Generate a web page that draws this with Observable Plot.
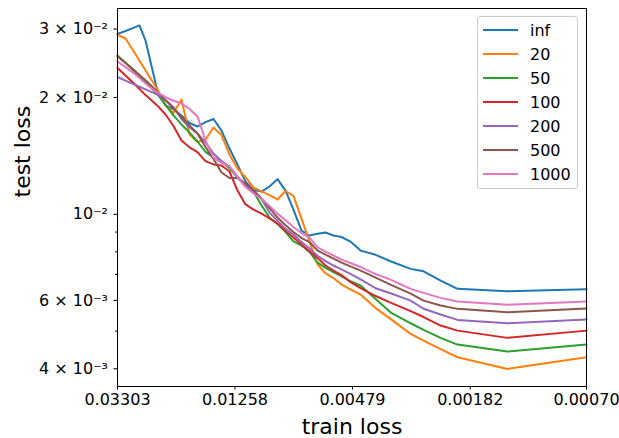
<!DOCTYPE html>
<html><head><meta charset="utf-8">
<script src="https://cdn.jsdelivr.net/npm/d3@7"></script>
<script src="https://cdn.jsdelivr.net/npm/@observablehq/plot@0.6"></script>
<style>
body{margin:0;background:#fff;font-family:"DejaVu Sans",sans-serif;}
#wrap{position:relative;width:619px;height:438px;}
#wrap svg{display:block;}
#legend{position:absolute;left:477px;top:16px;width:99px;height:170px;padding-top:1px;border:1px solid #cccccc;border-radius:3px;background:rgba(255,255,255,0.8);}
.row{height:24px;display:flex;align-items:center;font-size:16px;color:#000;white-space:nowrap;}
.sw{width:35px;height:2px;margin-left:4.5px;margin-right:12.5px;flex:none;}
</style></head><body><div id="wrap"></div>
<script>
// train loss (x) grid shared by all curves
const trainLoss = [0.03303,0.03093,0.02896,0.02757,0.02624,0.02539,0.02378,0.02226,0.02085,0.01952,
  0.01828,0.01712,0.01603,0.01501,0.01405,0.01316,0.01232,0.01154,0.01080,0.01011,
  0.00947,0.00887,0.00830,0.00778,0.00728,0.00682,0.00638,0.00598,0.00560,0.00524,
  0.00487,0.00448,0.00396,0.003505,0.00297,0.00267,0.002322,0.00202,0.00134,0.00070];

const testInf = [0.02915,0.02966,0.03022,0.03066,0.02803,0.02536,0.02072,0.01907,0.01867,0.01797,
  0.01719,0.01683,0.01727,0.01760,0.01643,0.01477,0.01343,0.01214,0.01155,0.01144,
  0.01179,0.01232,0.01151,0.01028,0.009078,0.008817,0.008905,0.008973,0.008817,0.008739,
  0.008506,0.008062,0.007862,0.007567,0.007234,0.007131,0.006747,0.006425,0.006333,0.006409];
const test20 = [0.02901,0.02837,0.02634,0.02487,0.02349,0.02262,0.02097,0.01913,0.01824,0.01976,
  0.01605,0.01536,0.01558,0.01673,0.01600,0.01425,0.01312,0.01246,0.01172,0.01146,
  0.01120,0.01092,0.01148,0.01115,0.00975,0.008506,0.007423,0.007048,0.006850,0.006592,
  0.006409,0.006212,0.005733,0.005377,0.004920,0.004726,0.004495,0.004282,0.003996,0.004282];
const test50 = [0.02566,0.02457,0.02346,0.02268,0.02191,0.02141,0.02038,0.01915,0.01798,0.01704,
  0.01624,0.01540,0.01448,0.01400,0.01367,0.01314,0.01244,0.01186,0.01144,0.01054,
  0.009809,0.009433,0.008994,0.008516,0.008309,0.007997,0.007510,0.007274,0.007098,0.006920,
  0.006720,0.006553,0.006054,0.005592,0.005239,0.005040,0.004804,0.004617,0.004428,0.004617];
const test100 = [0.02382,0.02279,0.02179,0.02103,0.02028,0.01988,0.01905,0.01808,0.01688,0.01549,
  0.01488,0.01446,0.01371,0.01344,0.01336,0.01289,0.01151,0.01060,0.01028,0.01004,
  0.009762,0.009467,0.009052,0.008712,0.008358,0.008016,0.007714,0.007379,0.007160,0.006974,
  0.006689,0.006456,0.006157,0.005923,0.005631,0.005436,0.005169,0.005015,0.004804,0.005015];
const test200 = [0.02258,0.02211,0.02165,0.02131,0.02098,0.02076,0.02034,0.01968,0.01890,0.01760,
  0.01673,0.01615,0.01531,0.01434,0.01371,0.01329,0.01251,0.01186,0.01138,0.01095,
  0.01010,0.009616,0.009172,0.008869,0.008481,0.008161,0.007821,0.007576,0.007379,0.007213,
  0.007024,0.006801,0.006448,0.006260,0.005992,0.005709,0.005517,0.005345,0.005239,0.005355];
const test500 = [0.02551,0.02454,0.02360,0.02285,0.02214,0.02167,0.02065,0.01970,0.01875,0.01778,
  0.01694,0.01615,0.01491,0.01388,0.01281,0.01240,0.01240,0.01198,0.01153,0.01098,
  0.01038,0.009809,0.009372,0.009005,0.008686,0.008481,0.008062,0.007876,0.007691,0.007510,
  0.007344,0.007160,0.006871,0.006592,0.006249,0.005992,0.005820,0.005706,0.005592,0.005716];
const test1000 = [0.02476,0.02394,0.02314,0.02243,0.02173,0.02131,0.02060,0.02004,0.01961,0.01930,
  0.01867,0.01786,0.01549,0.01400,0.01359,0.01328,0.01244,0.01176,0.01131,0.01095,
  0.01050,0.01004,0.009651,0.009272,0.008947,0.008712,0.008220,0.008016,0.007830,0.007644,
  0.007489,0.007313,0.007015,0.006788,0.006425,0.006275,0.006091,0.005958,0.005844,0.005958];

const seriesNames = ["inf","20","50","100","200","500","1000"];
const seriesValues = [testInf,test20,test50,test100,test200,test500,test1000];
const seriesColors = ["#1f77b4","#ff7f0e","#2ca02c","#d62728","#9467bd","#8c564b","#e377c2"];

const xTicks = [0.03303,0.01258,0.00479,0.00182,0.00070];
const xTickLabels = ["0.03303","0.01258","0.00479","0.00182","0.00070"];
const yMajor = [0.03,0.02,0.01,0.006,0.004];
const yMajorLabels = ["3 × 10⁻²","2 × 10⁻²","10⁻²","6 × 10⁻³","4 × 10⁻³"];
const yMinor = [0.009,0.008,0.007,0.005];

const data = [];
seriesNames.forEach((name, i) => seriesValues[i].forEach((v, j) =>
  data.push({train: trainLoss[j], test: v, series: name})));

const chart = Plot.plot({
  width: 619, height: 438,
  marginLeft: 117, marginRight: 33, marginTop: 8, marginBottom: 52,
  style: {fontFamily: "DejaVu Sans", fontSize: "16px", background: "white", color: "black", overflow: "visible"},
  x: {type: "log", domain: [0.03303, 0.00070]},
  y: {type: "log", domain: [0.0036, 0.0339]},
  color: {domain: seriesNames, range: seriesColors},
  marks: [
    Plot.line(data, {x: "train", y: "test", z: "series", stroke: "series", strokeWidth: 2, strokeLinejoin: "round"}),
    Plot.frame({stroke: "black", strokeWidth: 1}),
    Plot.axisX(xTicks, {tickFormat: () => "", tickSize: 3.5, label: null}),
    Plot.text(xTicks, {x: d => d, text: (d, i) => xTickLabels[i], frameAnchor: "bottom", lineAnchor: "top", dy: 7.5, fontSize: 16}),
    Plot.axisY(yMajor, {tickFormat: d => yMajorLabels[yMajor.indexOf(d)], tickSize: 3.5, tickPadding: 6, fontSize: 16, label: null}),
    Plot.axisY(yMinor, {tickFormat: () => "", tickSize: 2, label: null}),
    Plot.text(["train loss"], {text: d => d, frameAnchor: "bottom", lineAnchor: "bottom", dy: 47, fontSize: 22}),
    Plot.text(["test loss"], {text: d => d, frameAnchor: "left", dx: -95, rotate: -90, fontSize: 22})
  ]
});
const wrap = document.getElementById("wrap");
wrap.appendChild(chart);

const legend = document.createElement("div");
legend.id = "legend";
seriesNames.forEach((name, i) => {
  const row = document.createElement("div");
  row.className = "row";
  const sw = document.createElement("div");
  sw.className = "sw";
  sw.style.background = seriesColors[i];
  const lab = document.createElement("span");
  lab.textContent = name;
  row.appendChild(sw); row.appendChild(lab);
  legend.appendChild(row);
});
wrap.appendChild(legend);
</script></body></html>
